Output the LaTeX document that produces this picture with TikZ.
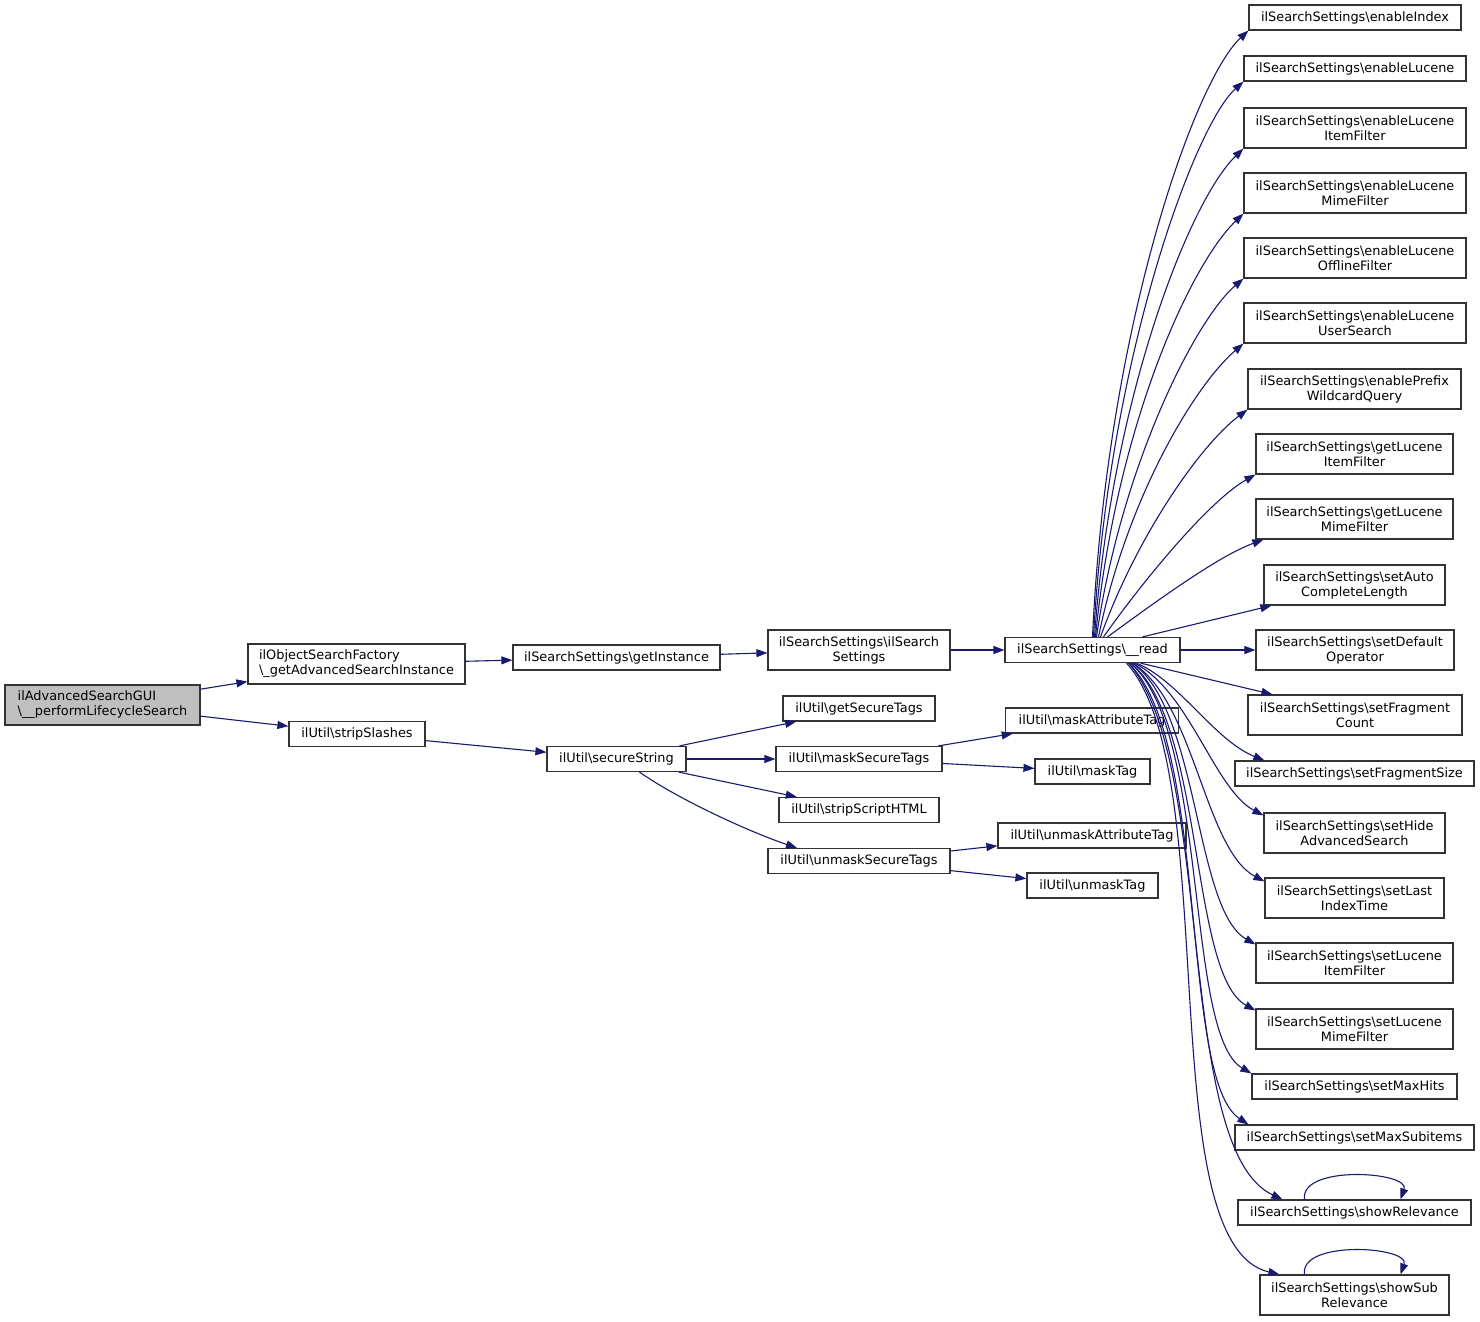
\documentclass[tikz,border=0pt]{standalone}
\usepackage{fontspec}
\setmainfont{DejaVu Sans}
\usetikzlibrary{arrows.meta}
\definecolor{midnightblue}{HTML}{191970}
\newcommand{\bksl}{\textbackslash}
\begin{document}
\begin{tikzpicture}[x=1pt,y=-1pt,>={Triangle[length=11pt,width=8pt]},
  font=\fontsize{12.9}{15}\selectfont,
  fn/.style={draw=black!80,line width=1.2pt,rectangle,inner sep=1pt,minimum height=25pt,align=center},
  two/.style={minimum height=40pt},
  call/.style={->,draw=midnightblue,line width=1.1pt}]
  \useasboundingbox (0,0) rectangle (1480,1322);
  \node[fn,two,fill=black!25,align=left,minimum width=195pt] (gui) at (102.5,705) {ilAdvancedSearchGUI\\\bksl\_\_performLifecycleSearch};
  \node[fn,two,align=left,minimum width=217pt] (factory) at (356.5,664) {ilObjectSearchFactory\\\bksl\_getAdvancedSearchInstance};
  \node[fn,minimum width=136pt] (strip) at (357,734) {ilUtil\bksl stripSlashes};
  \node[fn,minimum width=207pt] (getinst) at (616.5,657.5) {ilSearchSettings\bksl getInstance};
  \node[fn,two,minimum width=182pt] (ctor) at (859,650) {ilSearchSettings\bksl ilSearch\\Settings};
  \node[fn,minimum width=175pt] (read) at (1092.5,650) {ilSearchSettings\bksl\_\_read};
  \node[fn,minimum width=139pt] (secure) at (616.5,759) {ilUtil\bksl secureString};
  \node[fn,minimum width=152pt] (getsec) at (859,708.5) {ilUtil\bksl getSecureTags};
  \node[fn,minimum width=166pt] (masksec) at (859,759) {ilUtil\bksl maskSecureTags};
  \node[fn,minimum width=160pt] (stripscr) at (859,810) {ilUtil\bksl stripScriptHTML};
  \node[fn,minimum width=182pt] (unmasksec) at (859,861) {ilUtil\bksl unmaskSecureTags};
  \node[fn,minimum width=173pt] (maskattr) at (1092,720.5) {ilUtil\bksl maskAttributeTag};
  \node[fn,minimum width=115pt] (masktag) at (1092.5,771.5) {ilUtil\bksl maskTag};
  \node[fn,minimum width=188pt] (unmaskattr) at (1092,835.5) {ilUtil\bksl unmaskAttributeTag};
  \node[fn,minimum width=131pt] (unmasktag) at (1092.5,885.5) {ilUtil\bksl unmaskTag};
  \node[fn,minimum width=212pt] (enIdx) at (1355,17.5) {ilSearchSettings\bksl enableIndex};
  \node[fn,minimum width=222pt] (enLuc) at (1355,68.5) {ilSearchSettings\bksl enableLucene};
  \node[fn,two,minimum width=222pt] (enItem) at (1355,128) {ilSearchSettings\bksl enableLucene\\ItemFilter};
  \node[fn,two,minimum width=222pt] (enMime) at (1355,193) {ilSearchSettings\bksl enableLucene\\MimeFilter};
  \node[fn,two,minimum width=222pt] (enOffline) at (1355,258) {ilSearchSettings\bksl enableLucene\\OfflineFilter};
  \node[fn,two,minimum width=222pt] (enUser) at (1355,323) {ilSearchSettings\bksl enableLucene\\UserSearch};
  \node[fn,two,minimum width=213pt] (enPrefix) at (1354.5,389) {ilSearchSettings\bksl enablePrefix\\WildcardQuery};
  \node[fn,two,minimum width=197pt] (getItem) at (1354.5,454) {ilSearchSettings\bksl getLucene\\ItemFilter};
  \node[fn,two,minimum width=197pt] (getMime) at (1354.5,519) {ilSearchSettings\bksl getLucene\\MimeFilter};
  \node[fn,two,minimum width=181pt] (setAuto) at (1354.5,585) {ilSearchSettings\bksl setAuto\\CompleteLength};
  \node[fn,two,minimum width=198pt] (setDefault) at (1355,650) {ilSearchSettings\bksl setDefault\\Operator};
  \node[fn,two,minimum width=214pt] (setFragCount) at (1355,715) {ilSearchSettings\bksl setFragment\\Count};
  \node[fn,minimum width=239pt] (setFragSize) at (1354.5,773.5) {ilSearchSettings\bksl setFragmentSize};
  \node[fn,two,minimum width=181pt] (setHide) at (1354.5,833) {ilSearchSettings\bksl setHide\\AdvancedSearch};
  \node[fn,two,minimum width=179pt] (setLast) at (1354.5,898) {ilSearchSettings\bksl setLast\\IndexTime};
  \node[fn,two,minimum width=197pt] (setItem) at (1354.5,963) {ilSearchSettings\bksl setLucene\\ItemFilter};
  \node[fn,two,minimum width=197pt] (setMime) at (1354.5,1029) {ilSearchSettings\bksl setLucene\\MimeFilter};
  \node[fn,minimum width=205pt] (setHits) at (1354.5,1086.5) {ilSearchSettings\bksl setMaxHits};
  \node[fn,minimum width=239pt] (setSub) at (1354.5,1137.5) {ilSearchSettings\bksl setMaxSubitems};
  \node[fn,minimum width=233pt] (showRel) at (1354.5,1212.5) {ilSearchSettings\bksl showRelevance};
  \node[fn,two,minimum width=189pt] (showSub) at (1354.5,1295) {ilSearchSettings\bksl showSub\\Relevance};

  \draw[call] (gui) -- (factory);
  \draw[call] (gui) -- (strip);
  \draw[call] (factory) -- (getinst);
  \draw[call] (getinst) -- (ctor);
  \draw[call] (ctor) -- (read);
  \draw[call] (strip) -- (secure);
  \draw[call] (secure) -- (getsec);
  \draw[call] (secure) -- (masksec);
  \draw[call] (secure) -- (stripscr);
  \draw[call] ([xshift=23pt]secure.south) .. controls +(40,28) and +(-45,-15) .. ([xshift=-62pt]unmasksec.north);
  \draw[call] (masksec) -- (maskattr);
  \draw[call] (masksec) -- (masktag);
  \draw[call] (unmasksec) -- (unmaskattr);
  \draw[call] (unmasksec) -- (unmasktag);

  \draw[call] (read.north) .. controls +(14,-308) and +(-54,50) .. (enIdx.south west);
  \draw[call] ([xshift=1pt]read.north) .. controls +(15,-278) and +(-49,44) .. (enLuc.south west);
  \draw[call] ([xshift=2pt]read.north) .. controls +(17,-238) and +(-54,52) .. (enItem.south west);
  \draw[call] ([xshift=3pt]read.north) .. controls +(20,-208) and +(-54,52) .. (enMime.south west);
  \draw[call] ([xshift=4pt]read.north) .. controls +(24,-168) and +(-49,42) .. (enOffline.south west);
  \draw[call] ([xshift=6pt]read.north) .. controls +(28,-138) and +(-49,42) .. (enUser.south west);
  \draw[call] ([xshift=8pt]read.north) .. controls +(35,-98) and +(-48,36) .. (enPrefix.south west);
  \draw[call] ([xshift=11pt]read.north) .. controls +(41,-58) and +(-46,26) .. (getItem.south west);
  \draw[call] ([xshift=15pt]read.north) .. controls +(52,-38) and +(-44,16) .. ([xshift=8pt]getMime.south west);
  \draw[call] ([xshift=50pt]read.north) -- ([xshift=8pt]setAuto.south west);
  \draw[call] (read) -- (setDefault);
  \draw[call] ([xshift=48pt]read.south) -- ([xshift=25pt]setFragCount.north west);
  \draw[call] ([xshift=44pt]read.south) .. controls +(43,18) and +(-50,-20) .. ([xshift=30pt]setFragSize.north west);
  \draw[call] ([xshift=42pt]read.south) .. controls +(55,28) and +(-49,-26) .. ([yshift=-3pt]setHide.north west);
  \draw[call] ([xshift=40pt]read.south) .. controls +(62,38) and +(-60,-32) .. ([yshift=-4pt]setLast.north west);
  \draw[call] ([xshift=40pt]read.south) .. controls +(67,48) and +(-61,-35) .. ([yshift=-2pt]setItem.north west);
  \draw[call] ([xshift=38pt]read.south) .. controls +(74,58) and +(-66,-36) .. ([yshift=-2pt]setMime.north west);
  \draw[call] ([xshift=38pt]read.south) .. controls +(79,68) and +(-67,-39) .. (setHits.north west);
  \draw[call] ([xshift=36pt]read.south) .. controls +(81,78) and +(-69,-45) .. ([xshift=14pt]setSub.north west);
  \draw[call] ([xshift=36pt]read.south) .. controls +(87,98) and +(-108,-50) .. ([xshift=45pt]showRel.north west);
  \draw[call] ([xshift=34pt]read.south) .. controls +(98,108) and +(-130,-30) .. ([xshift=20pt]showSub.north west);
  \draw[call] ([xshift=-50pt]showRel.north) .. controls +(-5,-35) and +(10,-28) .. ([xshift=46pt]showRel.north);
  \draw[call] ([xshift=-50pt]showSub.north) .. controls +(-5,-35) and +(10,-28) .. ([xshift=46pt]showSub.north);
\end{tikzpicture}
\end{document}
